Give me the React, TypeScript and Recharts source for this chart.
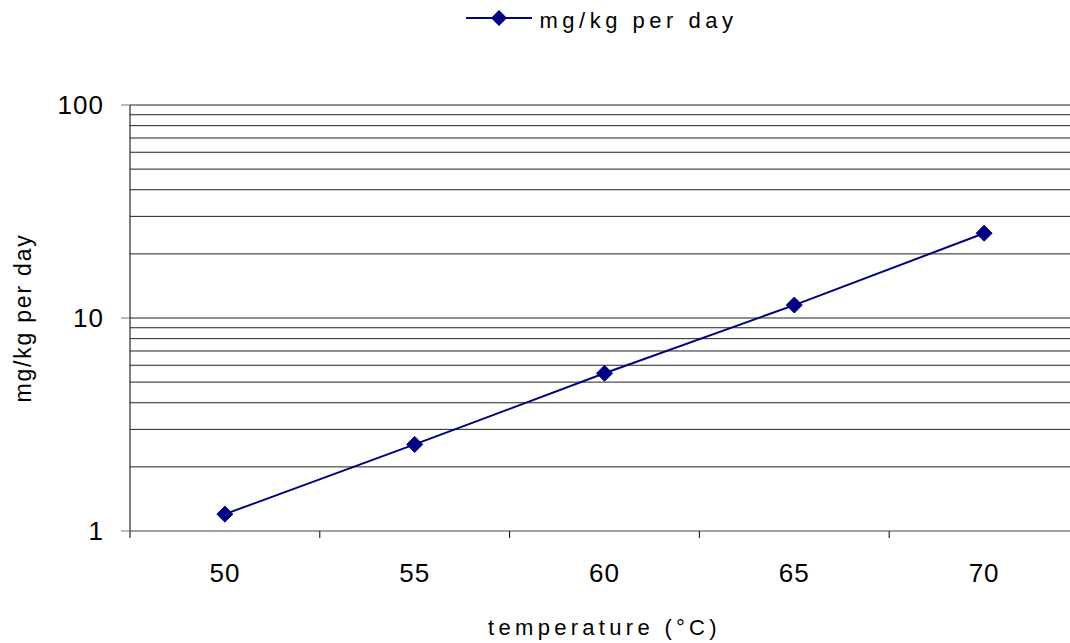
import { LineChart, Line, XAxis, YAxis, ReferenceLine, Legend } from 'recharts';

const temperatures = [50, 55, 60, 65, 70];
const dosePerDay = [1.2, 2.55, 5.5, 11.5, 25];
const xLabelTicks = [50, 55, 60, 65, 70];
const xEdgeTicks = [47.5, 52.5, 57.5, 62.5, 67.5, 72.5];
const yTicks = [1, 10, 100];
const gridValues = [2, 3, 4, 5, 6, 7, 8, 9, 10, 20, 30, 40, 50, 60, 70, 80, 90, 100];

const NAVY = '#000080';
const FONT = '"Liberation Sans", Arial, sans-serif';

const data = temperatures.map((t, i) => ({ t, dose: dosePerDay[i] }));

function Diamond(props: any) {
  const { cx, cy } = props;
  if (cx == null || cy == null) return null;
  const r = 8;
  return (
    <polygon
      points={`${cx},${cy - r} ${cx + r},${cy} ${cx},${cy + r} ${cx - r},${cy}`}
      fill={NAVY}
      stroke={NAVY}
    />
  );
}

function LegendBox() {
  return (
    <div style={{ height: 40, display: 'flex', justifyContent: 'center', alignItems: 'flex-start', paddingLeft: 124 }}>
      <svg width={68} height={36} style={{ overflow: 'visible' }}>
        <line x1={0} y1={18} x2={66} y2={18} stroke={NAVY} strokeWidth={2} />
        <polygon points="33,10 41,18 33,26 25,18" fill={NAVY} />
      </svg>
      <span style={{ fontFamily: FONT, fontSize: 22, letterSpacing: 4.5, lineHeight: '44px', marginTop: -1, marginLeft: 6, color: '#000' }}>
        mg/kg per day
      </span>
    </div>
  );
}

function YTitle(props: any) {
  const { viewBox } = props;
  const x = viewBox.x + 31;
  const y = viewBox.y + viewBox.height / 2;
  return (
    <text
      x={x}
      y={y}
      transform={`rotate(-90, ${x}, ${y})`}
      textAnchor="middle"
      fontFamily={FONT}
      fontSize={23}
      letterSpacing={1.8}
      fill="#000"
    >
      mg/kg per day
    </text>
  );
}

function XTitle(props: any) {
  const { viewBox } = props;
  const x = viewBox.x + viewBox.width / 2;
  const y = viewBox.y + 103;
  return (
    <text x={x} y={y} textAnchor="middle" fontFamily={FONT} fontSize={22} letterSpacing={4.3} fill="#000">
      temperature (°C)
    </text>
  );
}

export default function App() {
  return (
    <div style={{ position: 'absolute', left: 0, top: 0, width: 1070, height: 643, overflow: 'hidden', background: '#fff' }}>
      <LineChart width={1079} height={643} data={data} margin={{ top: 65, right: 0, bottom: 0, left: 0 }}>
        <Legend
          verticalAlign="top"
          align="center"
          wrapperStyle={{ top: 0, left: 0, width: 1079 }}
          content={() => <LegendBox />}
        />
        <XAxis
          xAxisId="edges"
          dataKey="t"
          type="number"
          domain={[47.5, 72.5]}
          ticks={xEdgeTicks}
          tickFormatter={() => ''}
          height={1}
          tickSize={7}
          tickLine={{ stroke: '#000' }}
          axisLine={{ stroke: '#444' }}
          interval={0}
          allowDataOverflow
        />
        <XAxis
          xAxisId="labels"
          dataKey="t"
          type="number"
          domain={[47.5, 72.5]}
          ticks={xLabelTicks}
          height={111}
          tickSize={0}
          tickMargin={32}
          tickLine={false}
          axisLine={false}
          interval={0}
          tick={{ fontFamily: FONT, fontSize: 26, fill: '#000', letterSpacing: 1 }}
          label={<XTitle />}
        />
        <YAxis
          yAxisId="y"
          scale="log"
          domain={[1, 100]}
          ticks={yTicks}
          width={130}
          tickSize={9}
          tickMargin={17}
          interval={0}
          allowDataOverflow
          axisLine={{ stroke: '#000' }}
          tickLine={{ stroke: '#777' }}
          tick={{ fontFamily: FONT, fontSize: 26, fill: '#000', letterSpacing: 1 }}
          label={<YTitle />}
        />
        {gridValues.map((v) => (
          <ReferenceLine key={v} y={v} yAxisId="y" xAxisId="edges" stroke="#222" strokeWidth={1} />
        ))}
        <Line
          xAxisId="edges"
          yAxisId="y"
          dataKey="dose"
          stroke={NAVY}
          strokeWidth={2}
          dot={<Diamond />}
          activeDot={false}
          isAnimationActive={false}
          legendType="none"
        />
      </LineChart>
    </div>
  );
}
